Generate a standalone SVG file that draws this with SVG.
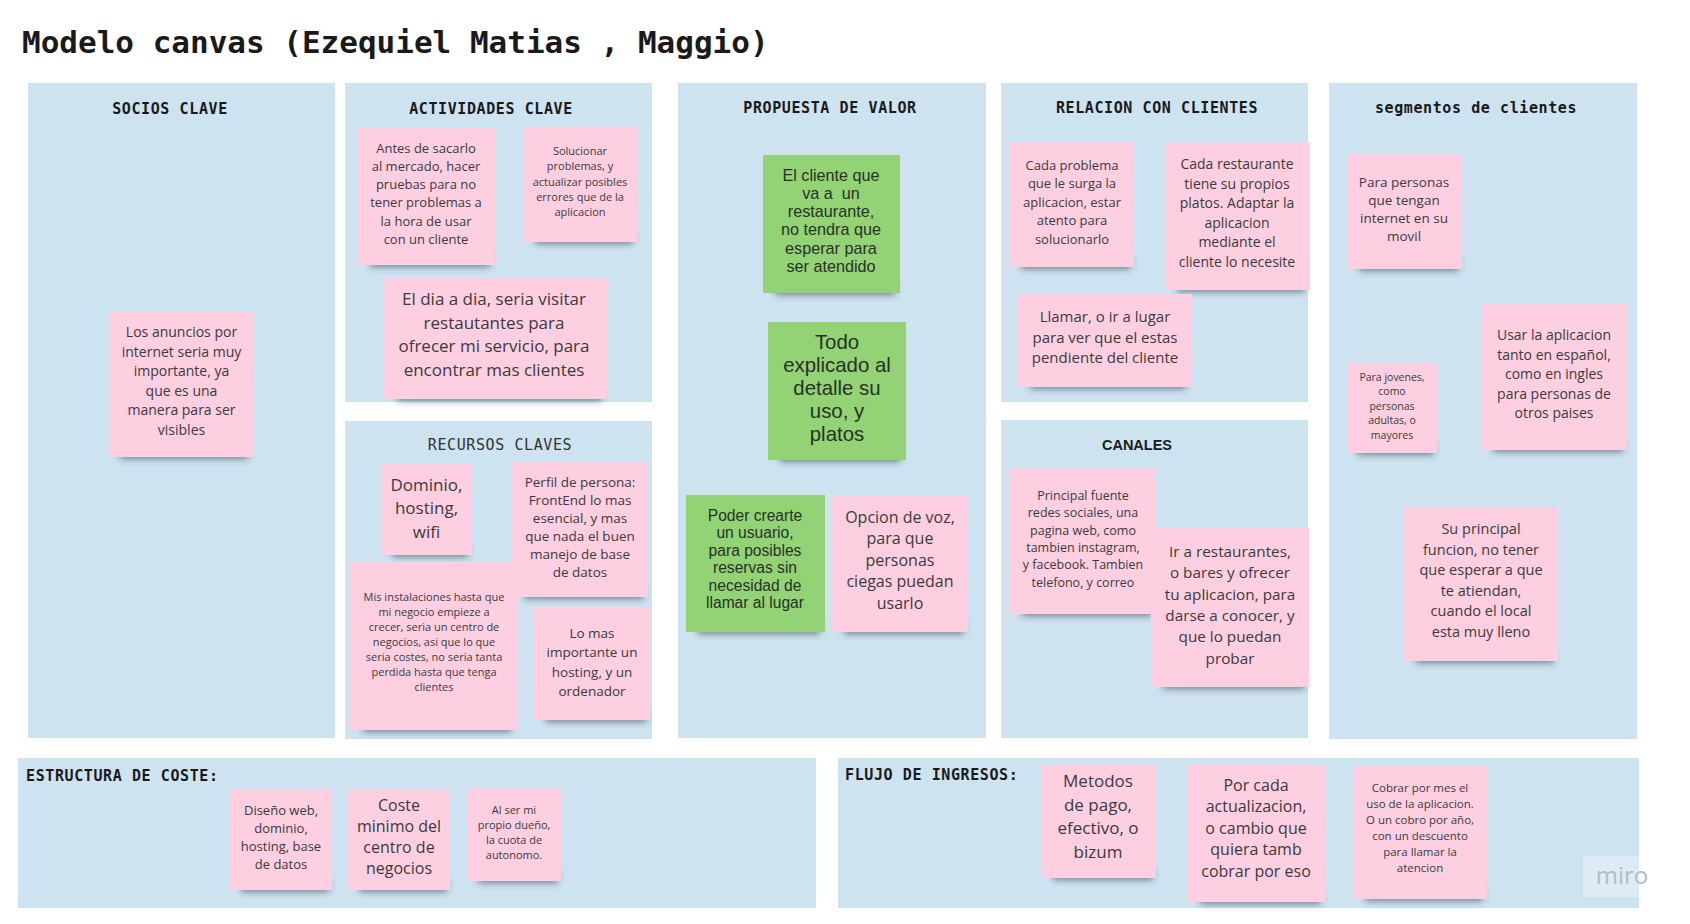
<svg xmlns="http://www.w3.org/2000/svg" width="1690" height="924" viewBox="0 0 1690 924">
<style>
.frame{fill:#cde3f0}
.title{font-family:"DejaVu Sans Mono","Liberation Mono",monospace;font-weight:bold;font-size:31px;fill:#1a1a1a}
.h{font-family:"DejaVu Sans Mono","Liberation Mono",monospace;font-weight:bold;font-size:15px;letter-spacing:0.6px;fill:#1a1a1a;text-anchor:middle}
.hs{font-family:"DejaVu Sans Mono","Liberation Mono",monospace;font-weight:bold;font-size:15px;letter-spacing:0.6px;fill:#1a1a1a}
.hr{font-family:"DejaVu Sans Mono","Liberation Mono",monospace;font-size:15px;letter-spacing:0.6px;fill:#333;text-anchor:middle}
.hc{font-family:"Liberation Sans",Arial,sans-serif;font-weight:bold;font-size:14.5px;fill:#1a1a1a;text-anchor:middle}
.pink{fill:#fecfe0}
.green{fill:#93d275}
.sh{fill:#27323c;opacity:0.55;filter:url(#blur)}
.t{font-family:"Open Sans","Noto Sans",sans-serif;fill:#3b3b3b;text-anchor:middle}
.tg{font-family:"Liberation Sans",Arial,sans-serif;fill:#263326;text-anchor:middle}
.miro{font-family:"Open Sans","Noto Sans",sans-serif;font-size:24px;fill:#b3bbc6;text-anchor:middle}
</style>
<defs>
<filter id="blur" x="-20%" y="-100%" width="140%" height="300%"><feGaussianBlur stdDeviation="3.5"/></filter>
</defs>
<rect width="1690" height="924" fill="#ffffff"/>
<text class="title" x="22" y="53">Modelo canvas (Ezequiel Matias , Maggio)</text>

<g id="frames">
<g id="socios-clave"><rect class="frame" x="28" y="83" width="307" height="655"/><text class="h" x="170" y="114">SOCIOS CLAVE</text></g>
<g id="actividades-clave"><rect class="frame" x="345" y="83" width="307" height="319"/><text class="h" x="491" y="114">ACTIVIDADES CLAVE</text></g>
<g id="recursos-claves"><rect class="frame" x="345" y="421" width="307" height="318"/><text class="hr" x="500" y="450">RECURSOS CLAVES</text></g>
<g id="propuesta-valor"><rect class="frame" x="678" y="83" width="308" height="655"/><text class="h" x="830" y="113">PROPUESTA DE VALOR</text></g>
<g id="relacion-clientes"><rect class="frame" x="1001" y="83" width="307" height="319"/><text class="h" x="1157" y="113">RELACION CON CLIENTES</text></g>
<g id="canales"><rect class="frame" x="1001" y="420" width="307" height="318"/><text class="hc" x="1137" y="450">CANALES</text></g>
<g id="segmentos-clientes"><rect class="frame" x="1329" y="83" width="308" height="656"/><text class="h" x="1476" y="113">segmentos de clientes</text></g>
<g id="estructura-coste"><rect class="frame" x="18" y="758" width="798" height="150"/><text class="hs" x="26" y="781">ESTRUCTURA DE COSTE:</text></g>
<g id="flujo-ingresos"><rect class="frame" x="838" y="758" width="801" height="150"/><text class="hs" x="845" y="780">FLUJO DE INGRESOS:</text></g>
</g>

<g id="connectors"></g>

<g id="n1"><rect class="sh" x="120" y="447" width="128" height="12"/><rect class="pink" x="109" y="312" width="145" height="145"/>
<text class="t" font-size="14" x="181.5" y="337"><tspan x="181.5">Los anuncios por</tspan><tspan x="181.5" dy="19.5">internet seria muy</tspan><tspan x="181.5" dy="19.5">importante, ya</tspan><tspan x="181.5" dy="19.5">que es una</tspan><tspan x="181.5" dy="19.5">manera para ser</tspan><tspan x="181.5" dy="19.5">visibles</tspan></text></g>

<g id="n2"><rect class="sh" x="370" y="255" width="120" height="12"/><rect class="pink" x="358" y="128" width="137" height="137"/>
<text class="t" font-size="13" x="426" y="152.5"><tspan x="426">Antes de sacarlo</tspan><tspan x="426" dy="18.3">al mercado, hacer</tspan><tspan x="426" dy="18.3">pruebas para no</tspan><tspan x="426" dy="18.3">tener problemas a</tspan><tspan x="426" dy="18.3">la hora de usar</tspan><tspan x="426" dy="18.3">con un cliente</tspan></text></g>

<g id="n3"><rect class="sh" x="535" y="232" width="98" height="12"/><rect class="pink" x="523" y="127" width="114" height="115"/>
<text class="t" font-size="11" x="580" y="155"><tspan x="580">Solucionar</tspan><tspan x="580" dy="15.3">problemas, y</tspan><tspan x="580" dy="15.3">actualizar posibles</tspan><tspan x="580" dy="15.3">errores que de la</tspan><tspan x="580" dy="15.3">aplicacion</tspan></text></g>

<g id="n4"><rect class="sh" x="397" y="389" width="205" height="12"/><rect class="pink" x="383" y="278" width="224" height="121"/>
<text class="t" font-size="17" x="494" y="305"><tspan x="494">El dia a dia, seria visitar</tspan><tspan x="494" dy="23.7">restautantes para</tspan><tspan x="494" dy="23.7">ofrecer mi servicio, para</tspan><tspan x="494" dy="23.7">encontrar mas clientes</tspan></text></g>

<g id="n5"><rect class="sh" x="392" y="545" width="76" height="12"/><rect class="pink" x="381" y="464" width="91" height="91"/>
<text class="t" font-size="17" x="426.5" y="491"><tspan x="426.5">Dominio,</tspan><tspan x="426.5" dy="23.3">hosting,</tspan><tspan x="426.5" dy="23.3">wifi</tspan></text></g>

<g id="n6"><rect class="sh" x="524" y="587" width="120" height="12"/><rect class="pink" x="512" y="462" width="136" height="135"/>
<text class="t" font-size="13.5" x="580" y="487"><tspan x="580">Perfil de persona:</tspan><tspan x="580" dy="18">FrontEnd lo mas</tspan><tspan x="580" dy="18">esencial, y mas</tspan><tspan x="580" dy="18">que nada el buen</tspan><tspan x="580" dy="18">manejo de base</tspan><tspan x="580" dy="18">de datos</tspan></text></g>

<g id="n7"><rect class="sh" x="363" y="720" width="148" height="12"/><rect class="pink" x="350" y="562" width="168" height="168"/>
<text class="t" font-size="11" x="434" y="601"><tspan x="434">Mis instalaciones hasta que</tspan><tspan x="434" dy="15">mi negocio empieze a</tspan><tspan x="434" dy="15">crecer, seria un centro de</tspan><tspan x="434" dy="15">negocios, asi que lo que</tspan><tspan x="434" dy="15">seria costes, no seria tanta</tspan><tspan x="434" dy="15">perdida hasta que tenga</tspan><tspan x="434" dy="15">clientes</tspan></text></g>

<g id="n8"><rect class="sh" x="546" y="710" width="100" height="12"/><rect class="pink" x="534" y="607" width="116" height="113"/>
<text class="t" font-size="13.5" x="592" y="638"><tspan x="592">Lo mas</tspan><tspan x="592" dy="19.3">importante un</tspan><tspan x="592" dy="19.3">hosting, y un</tspan><tspan x="592" dy="19.3">ordenador</tspan></text></g>

<g id="n9"><rect class="sh" x="775" y="283" width="120" height="12"/><rect class="green" x="763" y="155" width="137" height="138"/>
<text class="tg" font-size="16.2" x="831" y="180.5"><tspan x="831">El cliente que</tspan><tspan x="831" dy="18.3">va a&#160; un</tspan><tspan x="831" dy="18.3">restaurante,</tspan><tspan x="831" dy="18.3">no tendra que</tspan><tspan x="831" dy="18.3">esperar para</tspan><tspan x="831" dy="18.3">ser atendido</tspan></text></g>

<g id="n10"><rect class="sh" x="780" y="450" width="120" height="12"/><rect class="green" x="768" y="322" width="138" height="138"/>
<text class="tg" font-size="20.4" x="837" y="349"><tspan x="837">Todo</tspan><tspan x="837" dy="23">explicado al</tspan><tspan x="837" dy="23">detalle su</tspan><tspan x="837" dy="23">uso, y</tspan><tspan x="837" dy="23">platos</tspan></text></g>

<g id="n11"><rect class="sh" x="698" y="622" width="122" height="12"/><rect class="green" x="686" y="495" width="139" height="137"/>
<text class="tg" font-size="15.6" x="755" y="520.5"><tspan x="755">Poder crearte</tspan><tspan x="755" dy="17.5">un usuario,</tspan><tspan x="755" dy="17.5">para posibles</tspan><tspan x="755" dy="17.5">reservas sin</tspan><tspan x="755" dy="17.5">necesidad de</tspan><tspan x="755" dy="17.5">llamar al lugar</tspan></text></g>

<g id="n12"><rect class="sh" x="844" y="622" width="120" height="12"/><rect class="pink" x="832" y="496" width="136" height="136"/>
<text class="t" font-size="16" x="900" y="522.5"><tspan x="900">Opcion de voz,</tspan><tspan x="900" dy="21.5">para que</tspan><tspan x="900" dy="21.5">personas</tspan><tspan x="900" dy="21.5">ciegas puedan</tspan><tspan x="900" dy="21.5">usarlo</tspan></text></g>

<g id="n13"><rect class="sh" x="1021" y="257" width="110" height="12"/><rect class="pink" x="1009" y="142" width="125" height="125"/>
<text class="t" font-size="13" x="1072" y="169.5"><tspan x="1072">Cada problema</tspan><tspan x="1072" dy="18.6">que le surga la</tspan><tspan x="1072" dy="18.6">aplicacion, estar</tspan><tspan x="1072" dy="18.6">atento para</tspan><tspan x="1072" dy="18.6">solucionarlo</tspan></text></g>

<g id="n14"><rect class="sh" x="1177" y="280" width="128" height="12"/><rect class="pink" x="1165" y="143" width="145" height="147"/>
<text class="t" font-size="14" x="1237" y="169"><tspan x="1237">Cada restaurante</tspan><tspan x="1237" dy="19.5">tiene su propios</tspan><tspan x="1237" dy="19.5">platos. Adaptar la</tspan><tspan x="1237" dy="19.5">aplicacion</tspan><tspan x="1237" dy="19.5">mediante el</tspan><tspan x="1237" dy="19.5">cliente lo necesite</tspan></text></g>

<g id="n15"><rect class="sh" x="1030" y="377" width="156" height="12"/><rect class="pink" x="1018" y="294" width="174" height="93"/>
<text class="t" font-size="15" x="1105" y="322"><tspan x="1105">Llamar, o ir a lugar</tspan><tspan x="1105" dy="20.7">para ver que el estas</tspan><tspan x="1105" dy="20.7">pendiente del cliente</tspan></text></g>

<g id="n16"><rect class="sh" x="1022" y="604" width="130" height="12"/><rect class="pink" x="1010" y="468" width="146" height="146"/>
<text class="t" font-size="12.5" x="1083" y="500"><tspan x="1083">Principal fuente</tspan><tspan x="1083" dy="17.3">redes sociales, una</tspan><tspan x="1083" dy="17.3">pagina web, como</tspan><tspan x="1083" dy="17.3">tambien instagram,</tspan><tspan x="1083" dy="17.3">y facebook. Tambien</tspan><tspan x="1083" dy="17.3">telefono, y correo</tspan></text></g>

<g id="n17"><rect class="sh" x="1163" y="677" width="142" height="12"/><rect class="pink" x="1151" y="528" width="158" height="159"/>
<text class="t" font-size="15.3" x="1230" y="557"><tspan x="1230">Ir a restaurantes,</tspan><tspan x="1230" dy="21.3">o bares y ofrecer</tspan><tspan x="1230" dy="21.3">tu aplicacion, para</tspan><tspan x="1230" dy="21.3">darse a conocer, y</tspan><tspan x="1230" dy="21.3">que lo puedan</tspan><tspan x="1230" dy="21.3">probar</tspan></text></g>

<g id="n18"><rect class="sh" x="1359" y="259" width="100" height="12"/><rect class="pink" x="1347" y="154" width="115" height="115"/>
<text class="t" font-size="13.5" x="1404" y="187"><tspan x="1404">Para personas</tspan><tspan x="1404" dy="18">que tengan</tspan><tspan x="1404" dy="18">internet en su</tspan><tspan x="1404" dy="18">movil</tspan></text></g>

<g id="n19"><rect class="sh" x="1357" y="443" width="77" height="12"/><rect class="pink" x="1347" y="363" width="90" height="90"/>
<text class="t" font-size="10.5" x="1392" y="380.5"><tspan x="1392">Para jovenes,</tspan><tspan x="1392" dy="14.5">como</tspan><tspan x="1392" dy="14.5">personas</tspan><tspan x="1392" dy="14.5">adultas, o</tspan><tspan x="1392" dy="14.5">mayores</tspan></text></g>

<g id="n20"><rect class="sh" x="1493" y="440" width="130" height="12"/><rect class="pink" x="1481" y="304" width="146" height="146"/>
<text class="t" font-size="14" x="1554" y="340"><tspan x="1554">Usar la aplicacion</tspan><tspan x="1554" dy="19.5">tanto en español,</tspan><tspan x="1554" dy="19.5">como en ingles</tspan><tspan x="1554" dy="19.5">para personas de</tspan><tspan x="1554" dy="19.5">otros paises</tspan></text></g>

<g id="n21"><rect class="sh" x="1416" y="651" width="138" height="12"/><rect class="pink" x="1404" y="507" width="154" height="154"/>
<text class="t" font-size="14.5" x="1481" y="534"><tspan x="1481">Su principal</tspan><tspan x="1481" dy="20.5">funcion, no tener</tspan><tspan x="1481" dy="20.5">que esperar a que</tspan><tspan x="1481" dy="20.5">te atiendan,</tspan><tspan x="1481" dy="20.5">cuando el local</tspan><tspan x="1481" dy="20.5">esta muy lleno</tspan></text></g>

<g id="n22"><rect class="sh" x="241" y="880" width="88" height="12"/><rect class="pink" x="230" y="789" width="102" height="101"/>
<text class="t" font-size="13" x="281" y="814.5"><tspan x="281">Diseño web,</tspan><tspan x="281" dy="18">dominio,</tspan><tspan x="281" dy="18">hosting, base</tspan><tspan x="281" dy="18">de datos</tspan></text></g>

<g id="n23"><rect class="sh" x="359" y="880" width="88" height="12"/><rect class="pink" x="348" y="789" width="102" height="101"/>
<text class="t" font-size="16" x="399" y="810.5"><tspan x="399">Coste</tspan><tspan x="399" dy="21">minimo del</tspan><tspan x="399" dy="21">centro de</tspan><tspan x="399" dy="21">negocios</tspan></text></g>

<g id="n24"><rect class="sh" x="478" y="871" width="80" height="12"/><rect class="pink" x="467" y="788" width="94" height="93"/>
<text class="t" font-size="11" x="514" y="814"><tspan x="514">Al ser mi</tspan><tspan x="514" dy="15">propio dueño,</tspan><tspan x="514" dy="15">la cuota de</tspan><tspan x="514" dy="15">autonomo.</tspan></text></g>

<g id="n25"><rect class="sh" x="1053" y="868" width="100" height="12"/><rect class="pink" x="1041" y="765" width="115" height="113"/>
<text class="t" font-size="17" x="1098" y="787"><tspan x="1098">Metodos</tspan><tspan x="1098" dy="23.5">de pago,</tspan><tspan x="1098" dy="23.5">efectivo, o</tspan><tspan x="1098" dy="23.5">bizum</tspan></text></g>

<g id="n26"><rect class="sh" x="1200" y="892" width="121" height="12"/><rect class="pink" x="1188" y="765" width="137" height="137"/>
<text class="t" font-size="16" x="1256" y="790.5"><tspan x="1256">Por cada</tspan><tspan x="1256" dy="21.5">actualizacion,</tspan><tspan x="1256" dy="21.5">o cambio que</tspan><tspan x="1256" dy="21.5">quiera tamb</tspan><tspan x="1256" dy="21.5">cobrar por eso</tspan></text></g>

<g id="n27"><rect class="sh" x="1365" y="889" width="118" height="12"/><rect class="pink" x="1353" y="766" width="134" height="133"/>
<text class="t" font-size="11.5" x="1420" y="792"><tspan x="1420">Cobrar por mes el</tspan><tspan x="1420" dy="16">uso de la aplicacion.</tspan><tspan x="1420" dy="16">O un cobro por año,</tspan><tspan x="1420" dy="16">con un descuento</tspan><tspan x="1420" dy="16">para llamar la</tspan><tspan x="1420" dy="16">atencion</tspan></text></g>

<g id="miro-logo"><rect x="1583" y="856" width="67" height="41" fill="#ffffff" opacity="0.3"/><text class="miro" x="1622" y="884">miro</text></g>
</svg>
